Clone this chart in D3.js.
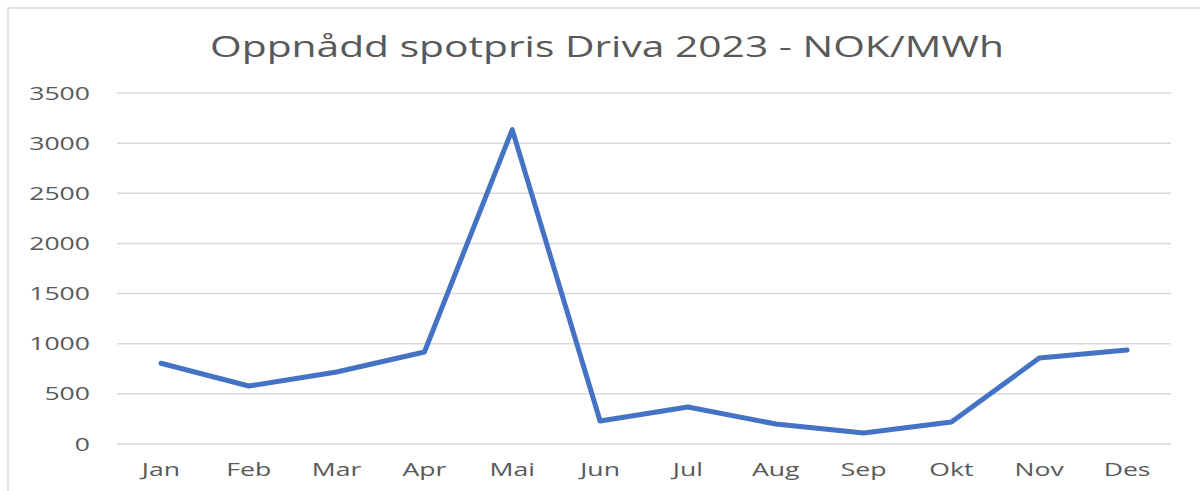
<!DOCTYPE html>
<html>
<head>
<meta charset="utf-8">
<script src="https://cdn.jsdelivr.net/npm/d3@7"></script>
<style>
  body { margin: 0; background: #fff; }
  svg { display: block; font-family: "Open Sans", sans-serif; }
</style>
</head>
<body>
<script>
var months = ["Jan","Feb","Mar","Apr","Mai","Jun","Jul","Aug","Sep","Okt","Nov","Des"];
var prices = [805, 578, 718, 917, 3135, 229, 369, 199, 110, 219, 857, 937];
var yTicks = [0, 500, 1000, 1500, 2000, 2500, 3000, 3500];
var title = "Oppnådd spotpris Driva 2023 - NOK/MWh";

var width = 1200, height = 491;
var stretch = 1.4; // the picture is wider than tall, text looks stretched

var svg = d3.select('body').append('svg')
            .attr('width', width)
            .attr('height', height);

// chart frame
svg.append('rect')
   .attr('x', 8).attr('y', 8)
   .attr('width', 1300).attr('height', 600)
   .attr('fill', 'none')
   .attr('stroke', '#d9d9d9')
   .attr('stroke-width', 1.5);

var x = d3.scaleBand()
          .domain(months)
          .range([117, 1171]);

var y = d3.scaleLinear()
          .domain([0, 3500])
          .range([444, 93]);

// gridlines
svg.append('g').selectAll('line')
   .data(yTicks)
   .enter().append('line')
   .attr('x1', 117).attr('x2', 1171)
   .attr('y1', function(d){ return y(d); })
   .attr('y2', function(d){ return y(d); })
   .attr('stroke', '#d9d9d9')
   .attr('stroke-width', 1.5);

// y labels
var yAxis = d3.axisLeft(y).tickValues(yTicks).tickFormat(d3.format('d')).tickSize(0).tickPadding(0);
var gy = svg.append('g').attr('transform', 'translate(90,0)').call(yAxis);
gy.select('.domain').remove();
gy.selectAll('text').attr('fill', '#595959').style('font-size', '19px')
  .style('font-family', '"Open Sans", sans-serif')
  .attr('transform', 'scale(' + stretch + ',1)');

// x labels
var xAxis = d3.axisBottom(x).tickSize(0).tickPadding(0);
var gx = svg.append('g').attr('transform', 'translate(0,463)').call(xAxis);
gx.select('.domain').remove();
gx.selectAll('text').attr('fill', '#595959').style('font-size', '19px')
  .style('font-family', '"Open Sans", sans-serif')
  .attr('transform', 'scale(' + stretch + ',1)');

var line = d3.line()
             .x(function(d, i){ return x(months[i]) + x.bandwidth() / 2; })
             .y(function(d){ return y(d); });

svg.append('path')
   .attr('d', line(prices))
   .attr('fill', 'none')
   .attr('stroke', '#4472c4')
   .attr('stroke-width', 5)
   .attr('stroke-linejoin', 'round')
   .attr('stroke-linecap', 'round');

svg.append('text')
   .attr('x', 210).attr('y', 57)
   .attr('fill', '#595959')
   .attr('textLength', 794)
   .attr('lengthAdjust', 'spacingAndGlyphs')
   .style('font-size', '30px')
   .text(title);
</script>
</body>
</html>
